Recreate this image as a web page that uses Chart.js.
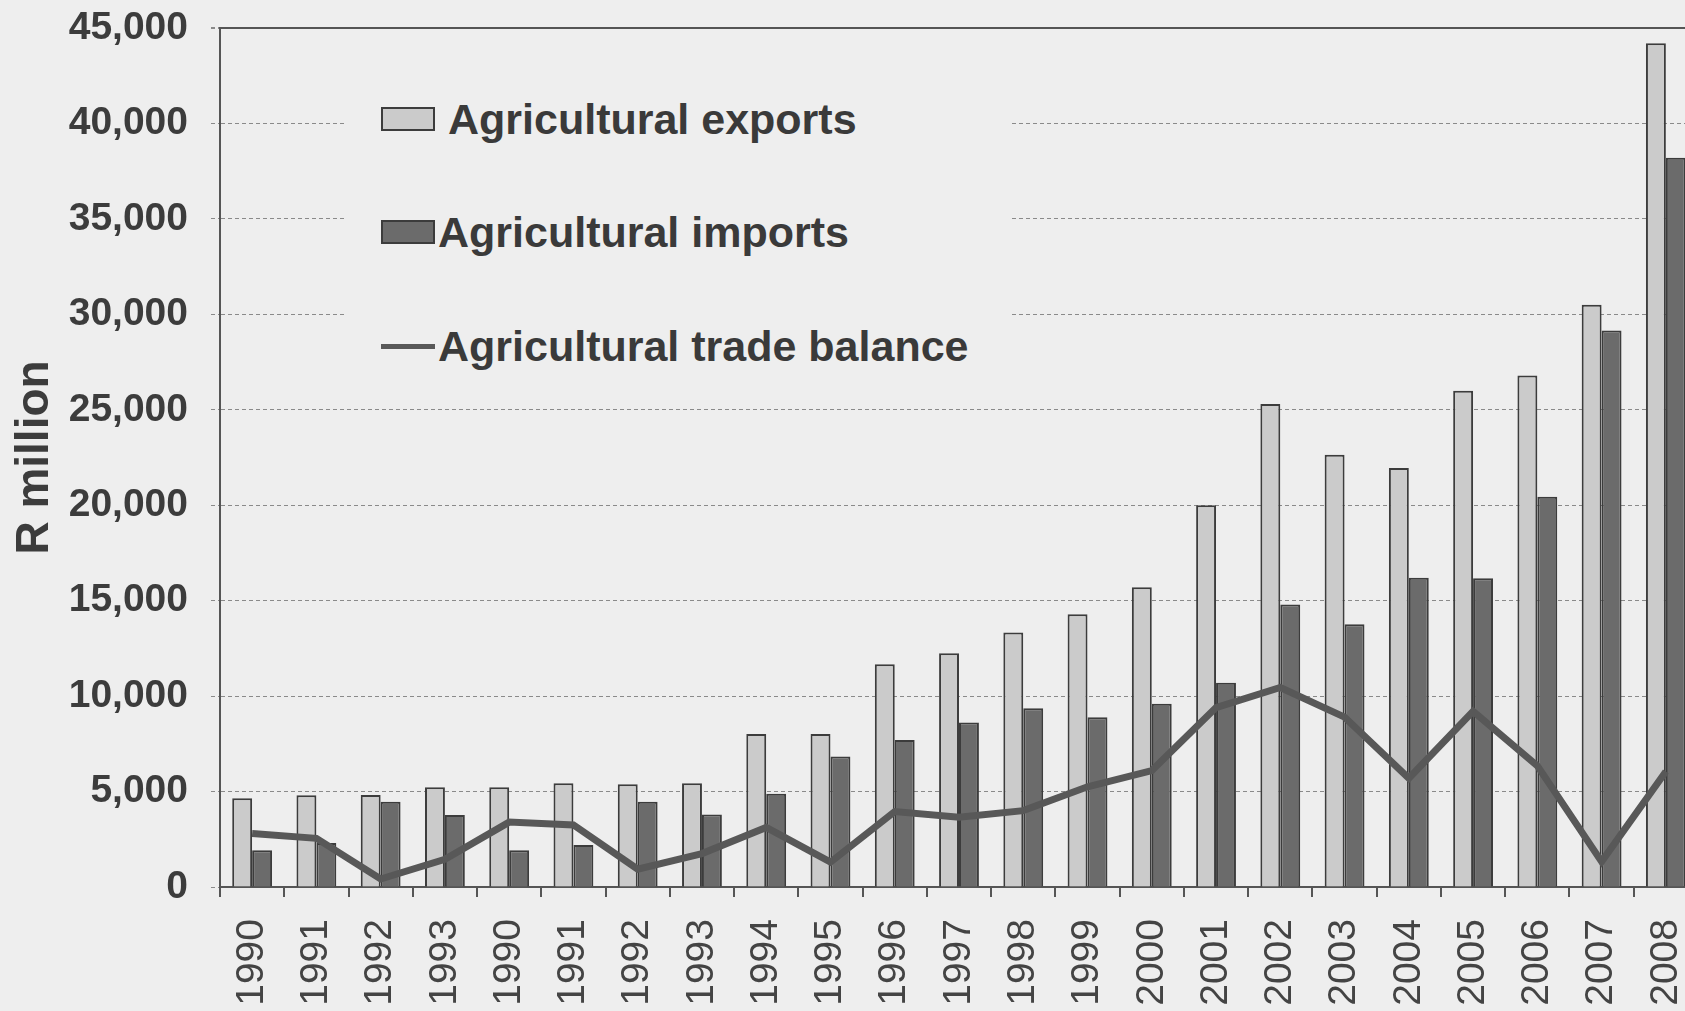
<!DOCTYPE html>
<html>
<head>
<meta charset="utf-8">
<script src="https://cdn.jsdelivr.net/npm/chart.js@4"></script>
<style>
  html, body { margin: 0; padding: 0; background: #eeeeee; overflow: hidden; }
  #wrap { position: relative; width: 1720px; height: 1011px; }
  #legend { position: absolute; left: 346px; top: 62px; width: 664px; height: 318px; background: #eeeeee; }
  .sw { position: absolute; box-sizing: border-box; }
  .lt { position: absolute; font: bold 43px "Liberation Sans", Arial, sans-serif; color: #3a3a3a; white-space: nowrap; line-height: normal; }
</style>
</head>
<body>
<div id="wrap">
  <canvas id="myChart"></canvas>
  <div id="legend"></div>
</div>
<script>
// años (el original repite 1990-1993)
const years = ['1990', '1991', '1992', '1993', '1990', '1991', '1992', '1993', '1994', '1995', '1996', '1997',
  '1998', '1999', '2000', '2001', '2002', '2003', '2004', '2005', '2006', '2007', '2008'];

// R million
const exportsR = [4650, 4800, 4820, 5230, 5230, 5440, 5380, 5440, 8010, 8010, 11670, 12250,
  13330, 14290, 15700, 20000, 25300, 22650, 21950, 26000, 26800, 30500, 44200];
const importsR = [1930, 2300, 4470, 3770, 1930, 2200, 4470, 3800, 4880, 6830, 7700, 8620,
  9360, 8890, 9600, 10700, 14800, 13760, 16200, 16170, 20450, 29150, 38200];
const balanceR = [2800, 2550, 420, 1450, 3400, 3250, 930, 1750, 3120, 1300, 3950, 3650,
  4000, 5250, 6100, 9400, 10450, 8900, 5700, 9200, 6350, 1330, 6050];

const yTicks = [0, 5000, 10000, 15000, 20000, 25000, 30000, 35000, 40000, 45000];

const seriesNames = ['Agricultural exports', 'Agricultural imports', 'Agricultural trade balance'];

const font = '"Liberation Sans", Arial, sans-serif';
const dark = '#3c3c3c';

const ctx = document.getElementById('myChart').getContext('2d');

const myChart = new Chart(ctx, {
  data: {
    labels: years,
    datasets: [
      {
        type: 'line',
        label: seriesNames[2],
        data: balanceR,
        borderColor: '#585858',
        backgroundColor: '#585858',
        borderWidth: 7,
        pointRadius: 0,
        tension: 0,
        order: 0
      },
      {
        type: 'bar',
        label: seriesNames[0],
        data: exportsR,
        backgroundColor: '#cbcbcb',
        borderColor: dark,
        borderWidth: 2,
        categoryPercentage: 0.62,
        barPercentage: 1.0,
        order: 1
      },
      {
        type: 'bar',
        label: seriesNames[1],
        data: importsR,
        backgroundColor: '#6b6b6b',
        borderColor: dark,
        borderWidth: 2,
        categoryPercentage: 0.62,
        barPercentage: 1.0,
        order: 2
      }
    ]
  },
  options: {
    responsive: true,
    maintainAspectRatio: false,
    animation: false,
    layout: { padding: { top: 28, right: 22, left: 0, bottom: 0 } },
    plugins: {
      legend: { display: false },
      tooltip: { enabled: false }
    },
    scales: {
      x: {
        offset: true,
        grid: {
          display: true,
          drawOnChartArea: false,
          drawTicks: true,
          tickLength: 10,
          color: '#555555',
          lineWidth: 2
        },
        border: { display: true, color: '#555555', width: 2 },
        ticks: {
          minRotation: 90,
          maxRotation: 90,
          autoSkip: false,
          padding: 22,
          color: '#444444',
          font: { family: font, size: 39 }
        },
        afterFit: s => {
          s.height = 124;
          s.paddingLeft = 0;
          s.paddingRight = 0;
        }
      },
      y: {
        min: 0,
        max: 45000,
        afterBuildTicks: s => { s.ticks = yTicks.map(v => ({ value: v })); },
        grid: {
          color: c => (c.tick && c.tick.value === 45000) ? '#555555' : '#8a8a8a',
          lineWidth: c => (c.tick && c.tick.value === 45000) ? 2 : 1,
          tickLength: 9,
          tickColor: '#8a8a8a',
          tickBorderDash: [4, 3]
        },
        border: {
          display: true,
          color: '#555555',
          width: 2,
          dash: c => (c.tick && c.tick.value !== 45000 && c.tick.value !== 0) ? [4, 3] : []
        },
        ticks: {
          padding: 23,
          color: dark,
          font: { family: font, size: 39, weight: 'bold' },
          callback: v => v.toLocaleString('en-US')
        },
        title: {
          display: true,
          text: 'R million',
          color: dark,
          padding: { top: 8, bottom: 0 },
          font: { family: font, size: 46, weight: 'bold', lineHeight: 1.2 }
        },
        afterFit: s => {
          s.width = 220;
          s.paddingTop = 0;
          s.paddingBottom = 0;
        }
      }
    }
  }
});

// leyenda HTML dentro del área del gráfico
const legendBox = document.getElementById('legend');
const ox = 346, oy = 62;
const rows = [
  { ds: 1, swTop: 107, swH: 24, textLeft: 448, base: 134 },
  { ds: 2, swTop: 220, swH: 24, textLeft: 438, base: 247 },
  { ds: 0, swTop: 344, swH: 5, textLeft: 438, base: 361 }
];
rows.forEach(r => {
  const d = myChart.data.datasets[r.ds];
  const sw = document.createElement('div');
  sw.className = 'sw';
  sw.style.left = (381 - ox) + 'px';
  sw.style.top = (r.swTop - oy) + 'px';
  sw.style.width = '54px';
  sw.style.height = r.swH + 'px';
  if (d.type === 'line') {
    sw.style.background = d.borderColor;
  } else {
    sw.style.background = d.backgroundColor;
    sw.style.border = '2px solid ' + d.borderColor;
  }
  legendBox.appendChild(sw);
  const t = document.createElement('div');
  t.className = 'lt';
  t.textContent = d.label;
  t.style.left = (r.textLeft - ox) + 'px';
  t.style.top = (r.base - 39 - oy) + 'px';
  legendBox.appendChild(t);
});
</script>
</body>
</html>
